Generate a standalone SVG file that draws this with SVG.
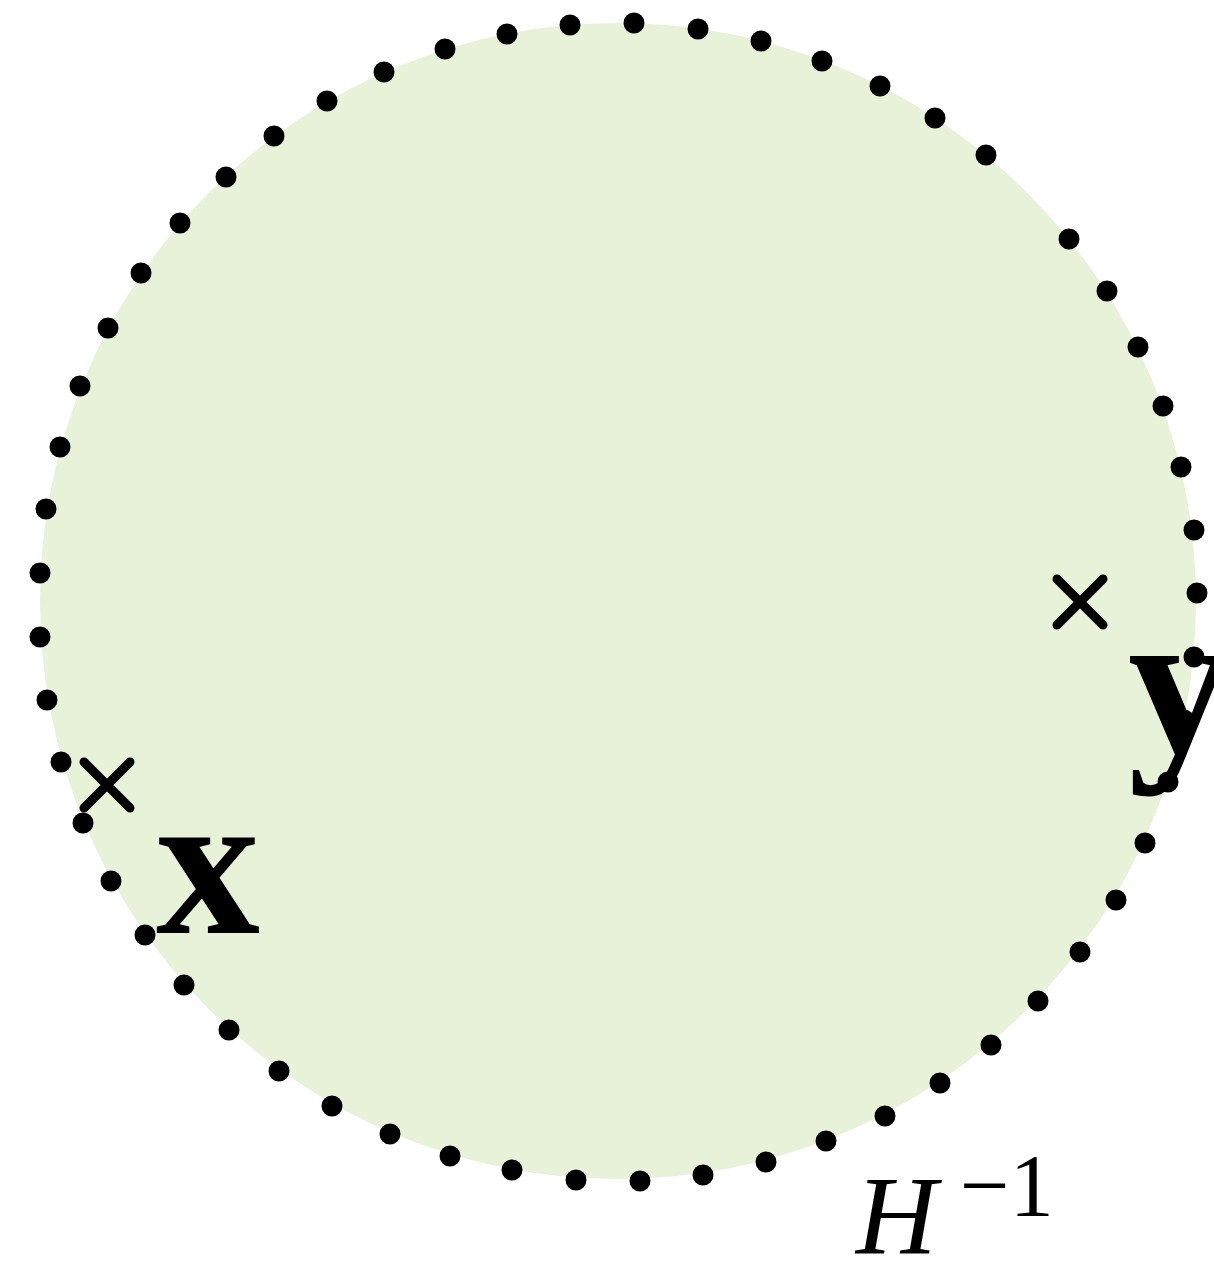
<svg xmlns="http://www.w3.org/2000/svg" width="1214" height="1266" viewBox="0 0 1214 1266">
<style>
.dot{fill:#000}
.cross{stroke:#000;stroke-width:9;stroke-linecap:round;fill:none}
.lbl{fill:#000;font-family:"Times New Roman",Times,Tinos,"Liberation Serif",serif}
</style>
<defs><circle id="d" r="10.5"/></defs>
<rect width="1214" height="1266" fill="#fff"/>
<g id="region">
<circle cx="618" cy="601" r="578" fill="#e7f2d9"/>
</g>
<g id="boundary" class="dot">
<use href="#d" x="634" y="23"/><use href="#d" x="698" y="29"/><use href="#d" x="761" y="41"/><use href="#d" x="822" y="61"/>
<use href="#d" x="880" y="86"/><use href="#d" x="935" y="118"/><use href="#d" x="986" y="155"/>
<use href="#d" x="1069" y="239"/><use href="#d" x="1107" y="291"/><use href="#d" x="1138" y="347"/><use href="#d" x="1163" y="406"/>
<use href="#d" x="1181" y="467"/><use href="#d" x="1194" y="530"/><use href="#d" x="1197" y="593"/><use href="#d" x="1194" y="657"/>
<use href="#d" x="1184" y="720"/><use href="#d" x="1168" y="782"/>
<use href="#d" x="1145" y="843"/><use href="#d" x="1116" y="900"/><use href="#d" x="1080" y="952"/><use href="#d" x="1038" y="1001"/>
<use href="#d" x="991" y="1045"/><use href="#d" x="940" y="1083"/><use href="#d" x="885" y="1116"/><use href="#d" x="826" y="1141"/>
<use href="#d" x="766" y="1162"/><use href="#d" x="703" y="1175"/><use href="#d" x="640" y="1181"/><use href="#d" x="576" y="1180"/>
<use href="#d" x="512" y="1170"/><use href="#d" x="450" y="1156"/><use href="#d" x="390" y="1134"/><use href="#d" x="332" y="1106"/>
<use href="#d" x="279" y="1071"/><use href="#d" x="229" y="1030"/><use href="#d" x="184" y="985"/><use href="#d" x="145" y="935"/>
<use href="#d" x="111" y="881"/><use href="#d" x="83" y="823"/><use href="#d" x="61" y="762"/><use href="#d" x="47" y="700"/>
<use href="#d" x="40" y="637"/><use href="#d" x="40" y="573"/><use href="#d" x="46" y="509"/><use href="#d" x="60" y="447"/>
<use href="#d" x="80" y="386"/><use href="#d" x="108" y="328"/><use href="#d" x="141" y="273"/><use href="#d" x="180" y="223"/>
<use href="#d" x="226" y="177"/><use href="#d" x="274" y="136"/><use href="#d" x="327" y="101"/><use href="#d" x="384" y="72"/>
<use href="#d" x="445" y="49"/><use href="#d" x="507" y="34"/><use href="#d" x="570" y="25"/>
</g>
<g id="point-x">
<path class="cross" d="M84 762L130 808M130 762L84 808"/>
<text class="lbl" x="156" y="933" font-size="208" font-weight="bold">x</text>
</g>
<g id="point-y">
<path class="cross" d="M1057 579L1103 625M1103 579L1057 625"/>
<text class="lbl" x="1128" y="752" font-size="208" font-weight="bold">y</text>
</g>
<g id="label-H">
<text class="lbl" x="856" y="1253" font-size="112" font-style="italic">H</text>
<text class="lbl" x="960" y="1215" font-size="88">−1</text>
</g>
</svg>
